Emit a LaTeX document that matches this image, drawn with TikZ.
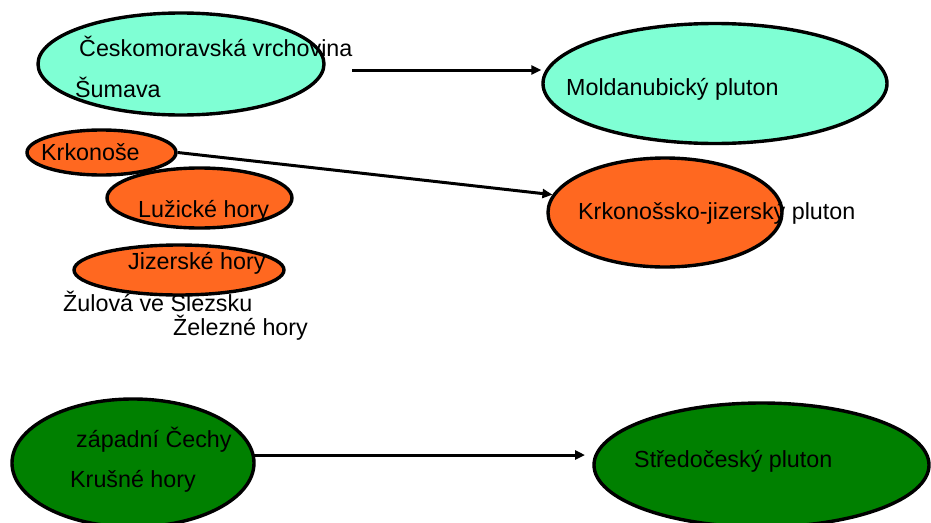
\documentclass[tikz,border=0pt]{standalone}
\usepackage{fontspec}
\setmainfont{Liberation Sans}
\usetikzlibrary{shapes.geometric,arrows.meta}
\definecolor{aqua}{RGB}{127,255,212}
\definecolor{orng}{RGB}{255,104,32}
\definecolor{grn}{RGB}{0,128,0}
\begin{document}
\begin{tikzpicture}[x=1pt,y=-1pt,
  blob/.style={ellipse, draw=black, line width=3.4pt, inner sep=0pt},
  lbl/.style={anchor=base west, inner sep=0pt, font=\fontsize{23.3}{28}\selectfont},
  conn/.style={line width=3pt, -{Triangle[length=10pt,width=9pt]}}]
\useasboundingbox (0,0) rectangle (931,522);
\clip (0,0) rectangle (931,522);
% ellipses
\node[blob, fill=aqua, minimum width=286pt, minimum height=102pt] (cm) at (181,64) {};
\node[blob, fill=aqua, minimum width=344pt, minimum height=120pt] (mold) at (715,83.5) {};
\node[blob, fill=orng, minimum width=149pt, minimum height=45pt] (krk) at (101.5,152.5) {};
\node[blob, fill=orng, minimum width=185pt, minimum height=60pt] (luz) at (199.5,198) {};
\node[blob, fill=orng, minimum width=210pt, minimum height=50pt] (jiz) at (179,270) {};
\node[blob, fill=orng, minimum width=234pt, minimum height=109pt] (krkpl) at (665,212.5) {};
\node[blob, fill=grn, minimum width=242pt, minimum height=128pt] (zap) at (133,463) {};
\node[blob, fill=grn, minimum width=335pt, minimum height=124pt] (stc) at (761.5,465) {};
% labels
\node[lbl] (t1) at (79,56.7) {Českomoravská vrchovina};
\node[lbl] (t2) at (75,97) {Šumava};
\node[lbl] (t3) at (566,95) {Moldanubický pluton};
\node[lbl] (t4) at (41,160) {Krkonoše};
\node[lbl] (t5) at (138,217) {Lužické hory};
\node[lbl] (t6) at (128,269) {Jizerské hory};
\node[lbl] (t7) at (63,311) {Žulová ve Slezsku};
\node[lbl] (t8) at (173,335) {Železné hory};
\node[lbl] (t9) at (578,219) {Krkonošsko-jizerský pluton};
\node[lbl] (t10) at (76,447) {západní Čechy};
\node[lbl] (t11) at (70,487) {Krušné hory};
\node[lbl] (t12) at (634,467) {Středočeský pluton};
% connectors
\coordinate (a1) at (352,70);
\draw[conn] (a1) -- (a1 -| mold.west);
\draw[conn] (krk.east) -- (krkpl.171);
\coordinate (a3s) at (254,455);
\coordinate (a3e) at (585,455);
\draw[conn] (a3s) -- (a3e);
\end{tikzpicture}
\end{document}
